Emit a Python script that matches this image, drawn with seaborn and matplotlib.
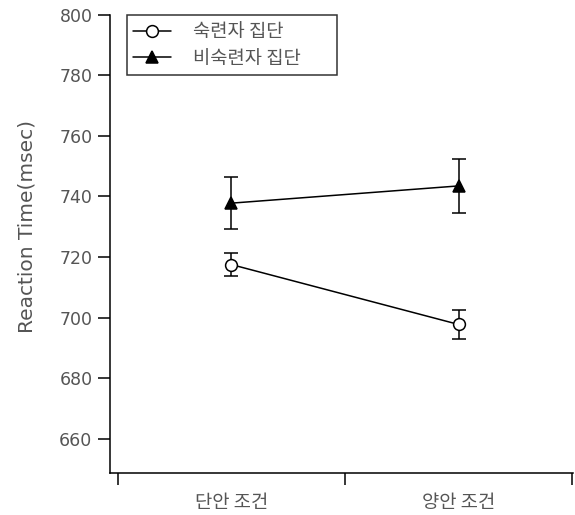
import matplotlib
matplotlib.use("Agg")
import matplotlib.pyplot as plt
import seaborn as sns
import pandas as pd

# Conditions and group means with standard errors (msec)
conditions = ["단안 조건", "양안 조건"]
groups = ["숙련자 집단", "비숙련자 집단"]
expert_rt = [717.5, 697.7]
expert_err = [3.7, 4.7]
novice_rt = [737.8, 743.5]
novice_err = [8.5, 9.0]
y_ticks = [660, 680, 700, 720, 740, 760, 780, 800]

sns.set_style("white")
plt.rcParams["font.family"] = ["DejaVu Sans", "Noto Sans CJK KR"]

positions = [0.5, 1.5]
df = pd.DataFrame({
    "pos": positions * 2,
    "rt": expert_rt + novice_rt,
    "err": expert_err + novice_err,
    "group": [groups[0]] * 2 + [groups[1]] * 2,
})

fig = plt.figure(figsize=(5.75, 5.15), dpi=100)
ax = fig.add_axes([0.191, 0.082, 0.806, 0.889])

styles = {groups[0]: dict(marker="o", mfc="white", ms=8.5),
          groups[1]: dict(marker="^", mfc="black", ms=8)}

for g in groups:
    sub = df[df["group"] == g]
    ax.errorbar(sub["pos"], sub["rt"], yerr=sub["err"], fmt="none",
                ecolor="black", elinewidth=1.1, capsize=4.7, capthick=1.1,
                zorder=2)
    sns.lineplot(data=sub, x="pos", y="rt", ax=ax, color="black",
                 linewidth=1.1, marker=styles[g]["marker"],
                 markerfacecolor=styles[g]["mfc"], markeredgecolor="black",
                 markeredgewidth=1.1, markersize=styles[g]["ms"],
                 label=g, zorder=3)

ax.set_xlim(-0.035, 2.004)
ax.set_ylim(648.7, 800)
ax.set_yticks(y_ticks)
ax.set_xticks([0, 1, 2])
ax.set_xticklabels([])
ax.set_xticks(positions, minor=True)
ax.set_xticklabels(conditions, minor=True, fontfamily="Noto Sans CJK KR",
                   fontsize=13.5, color="#555555")
ax.tick_params(axis="x", which="major", direction="out", length=8.5,
               width=1.1, color="black", bottom=True)
ax.tick_params(axis="x", which="minor", length=0, pad=14, bottom=True)
ax.tick_params(axis="y", direction="out", length=8.5, width=1.1, pad=4,
               color="black", labelsize=12.5, labelcolor="#555555", left=True)

for side in ["top", "right"]:
    ax.spines[side].set_visible(False)
for side in ["left", "bottom"]:
    ax.spines[side].set_color("black")
    ax.spines[side].set_linewidth(1.1)

ax.set_xlabel("")
ax.set_ylabel("Reaction Time(msec)", fontsize=14.5, color="#555555")
ax.yaxis.set_label_coords(-0.158, 0.537)

leg = ax.legend(loc="upper left", bbox_to_anchor=(0.0367, 0.0, 0.4536, 1.0),
                mode="expand", borderaxespad=0,
                prop={"family": "Noto Sans CJK KR", "size": 13.5},
                frameon=True, fancybox=False, edgecolor="black",
                handlelength=2.0, borderpad=0.35, labelspacing=0.28,
                handletextpad=1.2)
leg.get_frame().set_linewidth(1.1)
for t in leg.get_texts():
    t.set_color("#555555")

fig.savefig("out.png", dpi=100, facecolor="white")
